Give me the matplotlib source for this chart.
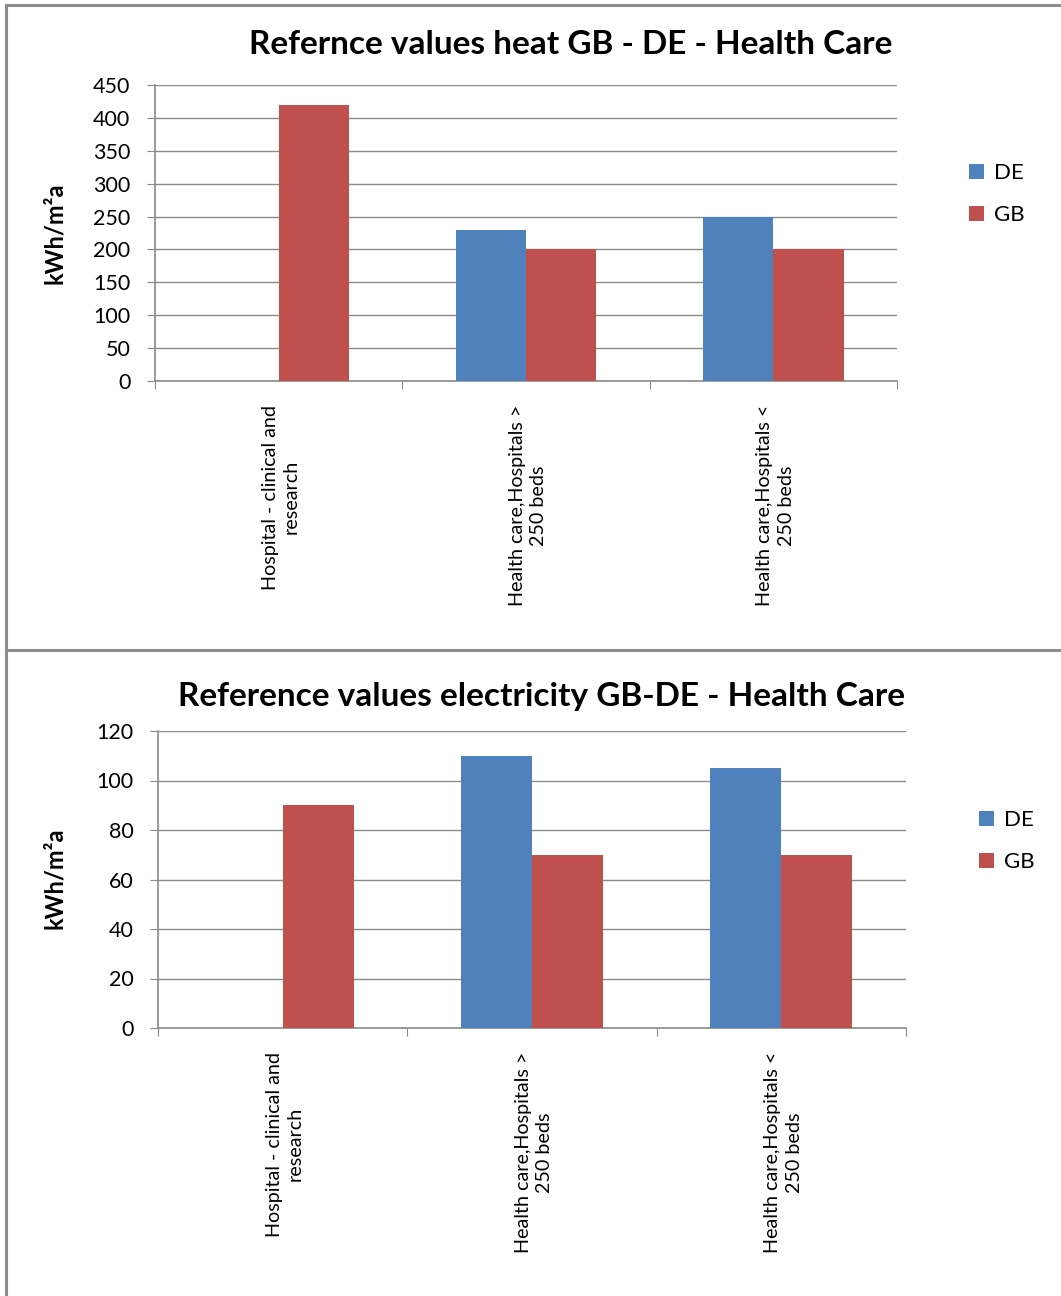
import matplotlib
matplotlib.use("Agg")
import matplotlib.pyplot as plt
from matplotlib.lines import Line2D
import numpy as np

plt.rcParams['font.family'] = ['Lato', 'DejaVu Sans']

categories = ["Hospital - clinical and\nresearch",
              "Health care,Hospitals >\n250 beds",
              "Health care,Hospitals <\n250 beds"]
series = ["DE", "GB"]
heat_DE = [np.nan, 230, 250]
heat_GB = [420, 200, 200]
elec_DE = [np.nan, 110, 105]
elec_GB = [90, 70, 70]
heat_ticks = [0, 50, 100, 150, 200, 250, 300, 350, 400, 450]
elec_ticks = [0, 20, 40, 60, 80, 100, 120]

W, H = 1061, 1296
fig = plt.figure(figsize=(W / 100, H / 100), dpi=100)
fig.patch.set_facecolor('white')

BLUE = '#4F81BD'
RED = '#C0504D'
GRID = '#8a8a8a'

def px_axes(l, t, r, b):
    return fig.add_axes([l / W, 1 - b / H, (r - l) / W, (b - t) / H])

def draw(ax, de, gb, ticks, title, tx, ty, ly, legx, legy):
    x = np.arange(len(categories))
    bw = 0.285
    ax.bar(x - bw / 2, de, bw, color=BLUE, label=series[0], zorder=3)
    ax.bar(x + bw / 2, gb, bw, color=RED, label=series[1], zorder=3)
    ax.set_xlim(-0.5, len(categories) - 0.5)
    ax.set_ylim(ticks[0], ticks[-1])
    ax.set_yticks(ticks)
    ax.set_yticklabels([str(t) for t in ticks], fontsize=15.5)
    ax.yaxis.grid(True, color=GRID, linewidth=1.0, zorder=0)
    ax.set_axisbelow(True)
    for s in ['top', 'right']:
        ax.spines[s].set_visible(False)
    for s in ['left', 'bottom']:
        ax.spines[s].set_color(GRID)
        ax.spines[s].set_linewidth(1.2)
    ax.tick_params(axis='y', length=5.8, color=GRID, pad=12)
    ax.set_xticks(np.arange(-0.5, len(categories), 1.0), minor=False)
    ax.set_xticklabels([])
    ax.tick_params(axis='x', which='major', length=5.8, color=GRID)
    for i, c in enumerate(categories):
        ax.annotate(c, xy=(i, 0), xycoords=('data', 'axes fraction'),
                    xytext=(1.5, -17), textcoords='offset points',
                    rotation=90, ha='center', va='top', multialignment='center',
                    fontsize=14.2, linespacing=1.3)
    fig.text(tx / W, 1 - ty / H, title, ha='center', va='center',
             fontsize=24, fontweight='bold')
    fig.text(55 / W, 1 - ly / H, 'kWh/m²a', rotation=90, ha='center',
             va='center', fontsize=17, fontweight='bold')
    ax.legend(loc='center left', bbox_to_anchor=(legx / W, 1 - legy / H),
              bbox_transform=fig.transFigure, frameon=False, fontsize=16,
              handlelength=0.65, handleheight=0.65, handletextpad=0.45,
              labelspacing=1.0, borderpad=0)

ax1 = px_axes(155, 85, 897, 381)
draw(ax1, heat_DE, heat_GB, heat_ticks,
     'Refernce values heat GB - DE - Health Care', 571, 44, 233, 958, 194)

ax2 = px_axes(158, 731, 906, 1028)
draw(ax2, elec_DE, elec_GB, elec_ticks,
     'Reference values electricity GB-DE - Health Care', 542, 696, 878, 968, 841)

# panel borders
bc = '#8c8c8c'
fig.add_artist(Line2D([6 / W, 1], [1 - 5 / H, 1 - 5 / H], color=bc, lw=2.2))
fig.add_artist(Line2D([6 / W, 6 / W], [0, 1 - 5 / H], color=bc, lw=2.2))
fig.add_artist(Line2D([6 / W, 1], [1 - 650 / H, 1 - 650 / H], color=bc, lw=2.2))

fig.savefig('out.png', dpi=100, facecolor='white')
